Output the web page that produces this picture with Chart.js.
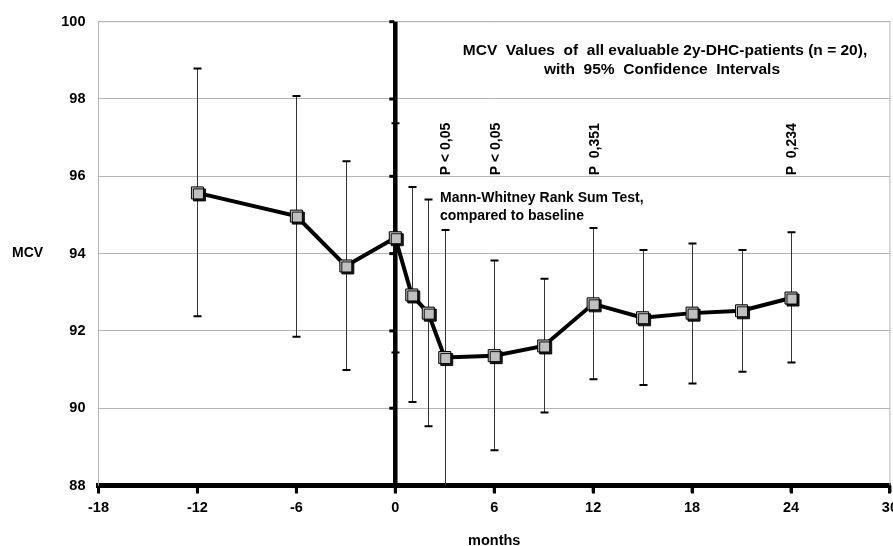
<!DOCTYPE html>
<html>
<head>
<meta charset="utf-8">
<script src="https://cdn.jsdelivr.net/npm/chart.js@4.4.0/dist/chart.umd.min.js"></script>
<style>
  html, body { margin: 0; padding: 0; background: #fff; overflow: hidden; }
  .chart-wrapper { width: 904px; height: 546px; }
</style>
</head>
<body>
<div class="chart-wrapper"><canvas id="myChart"></canvas></div>
<script>
// months relative to baseline, mean MCV and 95% confidence limits
const months = [-12, -6, -3, 0, 1, 2, 3, 6, 9, 12, 15, 18, 21, 24]
const mcvMean = [95.57, 94.97, 93.68, 94.41, 92.93, 92.46, 91.31, 91.36, 91.61, 92.70, 92.34, 92.46, 92.52, 92.85]
const ciLower = [92.38, 91.85, 90.99, 91.44, 90.16, 89.53, 87.80, 88.91, 89.89, 90.75, 90.60, 90.64, 90.94, 91.18]
const ciUpper = [98.79, 98.08, 96.39, 97.37, 95.72, 95.40, 94.61, 93.82, 93.35, 94.66, 94.09, 94.26, 94.09, 94.55]

// p-values of the rank sum test, placed above the month they belong to
const pMonths = [3, 6, 12, 24]
const pLabels = ['P < 0,05', 'P < 0,05', 'P  0,351', 'P  0,234']

const titleLines = ['MCV  Values  of  all evaluable 2y-DHC-patients (n = 20),', 'with  95%  Confidence  Intervals']
const testNote = ['Mann-Whitney Rank Sum Test,', 'compared to baseline']

const sans = "'Liberation Sans', Arial, sans-serif"

const points = months.map((m, i) => ({ x: m, y: mcvMean[i] }))

const overlay = {
  id: 'overlay',
  beforeDatasetsDraw (chart) {
    const { ctx, chartArea: a, scales: { x, y } } = chart
    ctx.save()
    // grey frame round the plot
    ctx.strokeStyle = '#b4b4b4'
    ctx.lineWidth = 1
    ctx.beginPath()
    ctx.moveTo(a.left, a.bottom)
    ctx.lineTo(a.left, a.top)
    ctx.lineTo(a.right, a.top)
    ctx.lineTo(a.right, a.bottom)
    ctx.stroke()

    // confidence intervals
    ctx.beginPath()
    ctx.rect(a.left, a.top, a.width, a.height)
    ctx.clip()
    months.forEach((m, i) => {
      const px = Math.round(x.getPixelForValue(m)) + 0.5
      const lo = y.getPixelForValue(ciLower[i])
      const hi = y.getPixelForValue(ciUpper[i])
      ctx.strokeStyle = '#333'
      ctx.lineWidth = 1
      ctx.beginPath()
      ctx.moveTo(px, lo)
      ctx.lineTo(px, hi)
      ctx.stroke()
      ctx.strokeStyle = '#000'
      ctx.lineWidth = 2
      ctx.beginPath()
      ctx.moveTo(px - 4, hi)
      ctx.lineTo(px + 4, hi)
      ctx.moveTo(px - 4, lo)
      ctx.lineTo(px + 4, lo)
      ctx.stroke()
    })
    ctx.restore()

    // bold baseline line at month 0 with small ticks
    ctx.save()
    const x0 = x.getPixelForValue(0)
    ctx.fillStyle = '#000'
    ctx.fillRect(x0 - 2.25, a.top, 4.5, a.height)
    y.ticks.forEach(t => {
      const py = y.getPixelForValue(t.value)
      ctx.fillRect(x0 - 6, py - 1.5, 5, 3)
    })
    ctx.restore()
  },
  beforeDatasetDraw (chart, args) {
    if (args.index !== 0) return
    const ctx = chart.ctx
    ctx.save()
    ctx.shadowColor = 'rgba(0,0,0,0.9)'
    ctx.shadowOffsetX = 2
    ctx.shadowOffsetY = 2
    ctx.shadowBlur = 0
  },
  afterDatasetDraw (chart, args) {
    if (args.index !== 0) return
    chart.ctx.restore()
  },
  afterDraw (chart) {
    const { ctx, chartArea: a, scales: { x, y } } = chart
    ctx.save()
    ctx.fillStyle = '#000'

    // tick stubs under the bold month axis
    x.ticks.forEach(t => {
      ctx.fillRect(x.getPixelForValue(t.value) - 1.5, a.bottom, 3, 7)
    })

    ctx.font = 'bold 15.5px ' + sans
    ctx.textAlign = 'center'
    ctx.textBaseline = 'middle'
    ctx.fillText(titleLines[0], 665, 51)
    ctx.fillText(titleLines[1], 662, 70)

    ctx.font = 'bold 14px ' + sans
    ctx.textAlign = 'left'
    ctx.fillText(testNote[0], 440, 198)
    ctx.fillText(testNote[1], 440, 216)

    ctx.fillText('MCV', 12, (a.top + a.bottom) / 2)

    pMonths.forEach((m, i) => {
      ctx.save()
      ctx.translate(x.getPixelForValue(m) + 1.5, y.getPixelForValue(96) - 1)
      ctx.rotate(-Math.PI / 2)
      ctx.textAlign = 'left'
      ctx.textBaseline = 'middle'
      ctx.fillText(pLabels[i], 0, 0)
      ctx.restore()
    })
    ctx.restore()
  }
}

new Chart(document.getElementById('myChart'), {
  type: 'line',
  data: {
    datasets: [{
      label: 'MCV',
      data: points,
      showLine: false,
      pointStyle: 'rect',
      pointRadius: 8.5,
      pointHoverRadius: 8.5,
      pointBackgroundColor: '#c0c0c0',
      pointBorderColor: '#000',
      pointBorderWidth: 1
    }, {
      label: 'MCV line',
      data: points,
      borderColor: '#000',
      borderWidth: 4,
      pointRadius: 0,
      tension: 0
    }]
  },
  options: {
    responsive: true,
    maintainAspectRatio: false,
    animation: false,
    layout: { padding: { top: 20.5, right: 11, bottom: 0, left: 0 } },
    plugins: {
      legend: { display: false },
      tooltip: { enabled: false }
    },
    scales: {
      x: {
        type: 'linear',
        min: -18,
        max: 30,
        ticks: {
          stepSize: 6,
          padding: 6,
          color: '#000',
          font: { family: sans, size: 14.5, weight: 'bold' }
        },
        grid: { drawOnChartArea: false, drawTicks: true, tickLength: 8, color: '#000', lineWidth: 3 },
        border: { color: '#000', width: 5 },
        title: {
          display: true,
          text: 'months',
          color: '#000',
          padding: 0,
          font: { family: sans, size: 14.5, weight: 'bold', lineHeight: 0.7 }
        },
        afterFit (scale) { scale.height = 60.5 }
      },
      y: {
        min: 88,
        max: 100,
        ticks: {
          stepSize: 2,
          padding: 13,
          color: '#000',
          font: { family: sans, size: 14.5, weight: 'bold' }
        },
        grid: { color: '#b4b4b4', lineWidth: 1, drawTicks: false },
        border: { color: '#b4b4b4', width: 1 },
        afterFit (scale) { scale.width = 98.5 }
      }
    }
  },
  plugins: [overlay]
})
</script>
</body>
</html>
